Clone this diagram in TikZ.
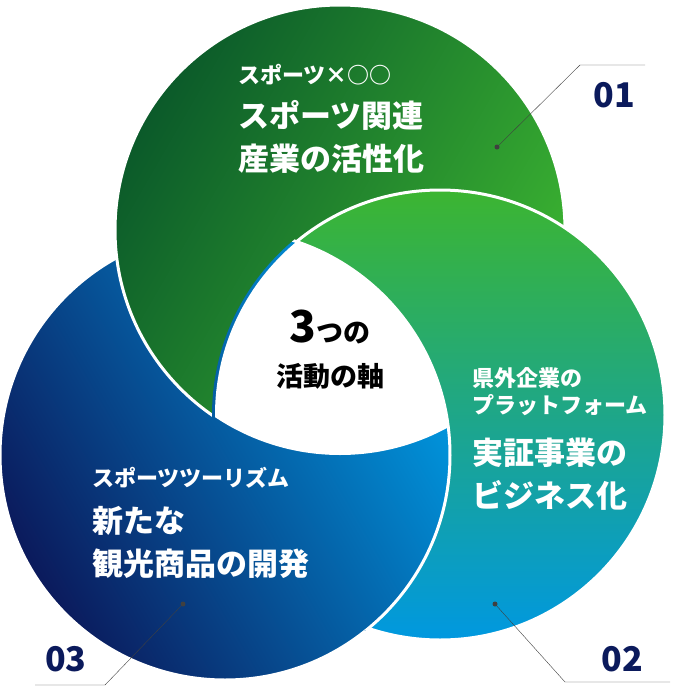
\documentclass[tikz,border=0pt]{standalone}
\usepackage{fontspec}
\newfontfamily\jp{Noto Sans CJK JP}[BoldFont={* Black}]
\usetikzlibrary{positioning}
\definecolor{navy}{HTML}{0B1A5C}
\definecolor{dgreen}{HTML}{0B5A2A}
\definecolor{lgreen}{HTML}{3CB531}
\definecolor{sky}{HTML}{0098E0}
\tikzset{
  ring/.style={draw=white, line width=3pt},
  small/.style={text=white, font=\jp\bfseries\fontsize{22}{27}\selectfont, anchor=west, align=left, inner sep=0pt},
  big/.style={text=white, font=\jp\bfseries\fontsize{31}{43}\selectfont, anchor=west, align=left, inner sep=0pt},
  num/.style={text=navy, font=\jp\bfseries\fontsize{34}{34}\selectfont},
  leader/.style={draw=black!75, thin},
  dot/.style={circle, fill=black!75, inner sep=0pt, minimum size=5pt}
}
\begin{document}
\begin{tikzpicture}[x=1pt,y=-1pt]
  \useasboundingbox (0,0) rectangle (676,689);
  \def\leftc{(225,455) circle (225)}
  \def\topc{(340,230) circle (225)}
  \def\rightc{(440,415) circle (225)}

  % the three circles
  \shade[left color=navy, right color=sky, shading angle=120] \leftc;
  \draw[ring] \leftc;
  \shade[left color=dgreen, right color=lgreen, shading angle=60] \topc;
  \draw[ring] \topc;
  \shade[top color=lgreen, bottom color=sky] \rightc;
  \draw[ring] \rightc;
  \begin{scope}
    \clip (440,415) circle (228);
    \shade[left color=navy, right color=sky, shading angle=120] \leftc;
    \draw[ring] \leftc;
  \end{scope}
  % white centre
  \begin{scope}
    \clip \leftc; \clip \topc;
    \fill[white] \rightc;
  \end{scope}

  % texts
  \node[small] (t1) at (238,75) {スポーツ×○○};
  \node[big] (t2) at (238,137) {スポーツ関連\\産業の活性化};
  \node[font=\jp\bfseries\fontsize{27}{44}\selectfont, align=center] (core) at (330,350) {{\fontsize{44}{44}\selectfont 3}つの\\活動の軸};
  \node[small] (r1) at (472,392) {県外企業の\\プラットフォーム};
  \node[big] (r2) at (472,474) {実証事業の\\ビジネス化};
  \node[small] (l1) at (92,478) {スポーツツーリズム};
  \node[big] (l2) at (92,542) {新たな\\観光商品の開発};

  % leaders and numbers
  \node[dot] (d1) at (497,147) {};
  \coordinate (k1) at (580,65);
  \coordinate (e1) at (645,65);
  \path[leader] (d1) -- (k1) -- (e1);
  \node[num] (n1) at (614,95) {01};
  \node[dot] (d2) at (495,604) {};
  \coordinate (k2) at (565,682);
  \coordinate (e2) at (670,682);
  \path[leader] (d2) -- (k2) -- (e2);
  \node[num] (n2) at (622,659) {02};
  \node[dot] (d3) at (183,604) {};
  \coordinate (k3) at (105,685);
  \coordinate (e3) at (35,685);
  \path[leader] (d3) -- (k3) -- (e3);
  \node[num] (n3) at (66,659) {03};
\end{tikzpicture}
\end{document}
